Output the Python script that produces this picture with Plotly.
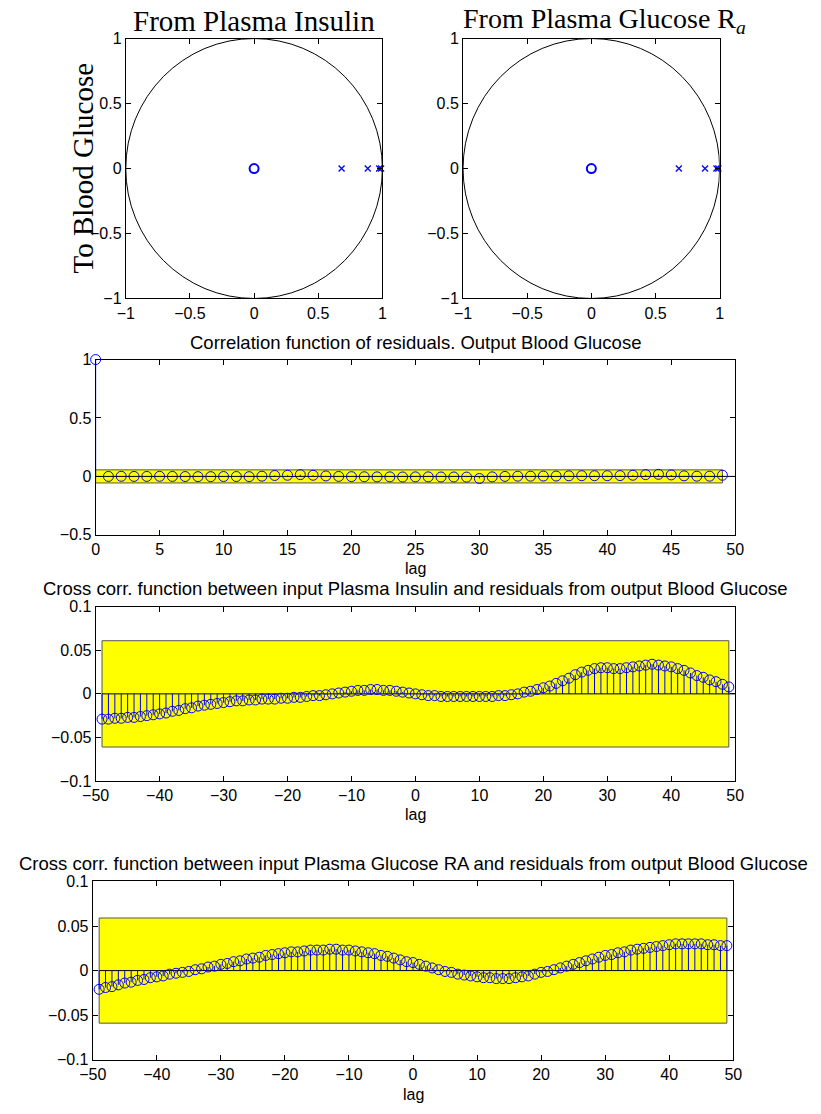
import plotly.graph_objects as go

# ---------------- data ----------------
pz_zeros = [0.0]
pz_poles = [0.682, 0.886, 0.975, 0.99]

corr_lags = list(range(0, 50))
corr_vals = [1.0, 0.000, 0.001, 0.000, 0.000, 0.001, 0.000, -0.001, -0.002, -0.002,
             -0.001, -0.001, -0.002, 0.002, 0.008, 0.010, 0.015, 0.010, 0.004, 0.000,
             -0.002, -0.003, -0.004, -0.004, -0.005, -0.004, -0.004, -0.005, -0.005, -0.006,
             -0.018, -0.004, 0.000, 0.002, 0.002, 0.003, 0.003, 0.005, 0.006, 0.006,
             0.006, 0.007, 0.010, 0.015, 0.018, 0.013, 0.005, 0.002, 0.002, 0.010]
corr_conf = 0.056

xc_lags = list(range(-49, 50))
xc1_vals = [-0.029, -0.029, -0.028, -0.028, -0.027, -0.027, -0.026, -0.025, -0.024, -0.023,
            -0.022, -0.020, -0.019, -0.017, -0.016, -0.014, -0.013, -0.012, -0.011, -0.010,
            -0.009, -0.008, -0.008, -0.007, -0.007, -0.006, -0.006, -0.006, -0.005, -0.005,
            -0.004, -0.004, -0.003, -0.002, -0.002, -0.001, 0.000, 0.001, 0.002, 0.003,
            0.004, 0.004, 0.005, 0.005, 0.004, 0.004, 0.003, 0.002, 0.001, 0.000,
            -0.001, -0.002, -0.002, -0.003, -0.003, -0.003, -0.003, -0.003, -0.003, -0.003,
            -0.003, -0.003, -0.002, -0.002, -0.001, 0.000, 0.002, 0.003, 0.005, 0.007,
            0.009, 0.012, 0.015, 0.018, 0.022, 0.025, 0.027, 0.029, 0.030, 0.030,
            0.029, 0.029, 0.030, 0.031, 0.032, 0.033, 0.034, 0.033, 0.032, 0.031,
            0.029, 0.027, 0.024, 0.021, 0.019, 0.016, 0.014, 0.011, 0.008]
xc1_conf = 0.061

xc2_vals = [-0.021, -0.019, -0.018, -0.016, -0.014, -0.013, -0.011, -0.010, -0.008, -0.007,
            -0.006, -0.004, -0.003, -0.002, -0.001, 0.001, 0.002, 0.004, 0.005, 0.007,
            0.008, 0.010, 0.011, 0.013, 0.014, 0.015, 0.017, 0.018, 0.019, 0.020,
            0.021, 0.021, 0.022, 0.023, 0.023, 0.023, 0.024, 0.024, 0.023, 0.023,
            0.022, 0.021, 0.020, 0.019, 0.017, 0.016, 0.014, 0.012, 0.010, 0.009,
            0.007, 0.005, 0.003, 0.001, -0.001, -0.002, -0.004, -0.005, -0.006, -0.007,
            -0.008, -0.008, -0.009, -0.009, -0.009, -0.008, -0.007, -0.006, -0.004, -0.002,
            -0.001, 0.001, 0.003, 0.005, 0.007, 0.009, 0.011, 0.013, 0.015, 0.017,
            0.018, 0.020, 0.021, 0.023, 0.024, 0.025, 0.026, 0.027, 0.028, 0.029,
            0.030, 0.030, 0.030, 0.030, 0.030, 0.029, 0.029, 0.028, 0.028]
xc2_conf = 0.059

pz_ticks = [-1, -0.5, 0, 0.5, 1]
corr_xticks = list(range(0, 51, 5))
corr_yticks = [-0.5, 0, 0.5, 1]
xc_xticks = list(range(-50, 51, 10))
xc_yticks = [-0.1, -0.05, 0, 0.05, 0.1]

titles = ["From Plasma Insulin", "From Plasma Glucose R<sub><i>a</i></sub>",
          "Correlation function of residuals. Output Blood Glucose",
          "Cross corr. function between input Plasma Insulin and residuals from output Blood Glucose",
          "Cross corr. function between input Plasma Glucose RA and residuals from output Blood Glucose"]
ylabel_pz = "To Blood Glucose"
xlabel = "lag"

# ---------------- layout geometry ----------------
W, H = 821, 1114
BLUE = "#0000ff"
SANS = "Liberation Sans, Arial, sans-serif"
SERIF = "Liberation Serif, Times New Roman, serif"
TICK_SIZE = 16
TITLE_SIZE = 18.5
LAG_SIZE = 16
SERIF_SIZE = 29


def px_x(a, b):
    return [a / W, b / W]


def px_y(top, bottom):
    return [1 - bottom / H, 1 - top / H]


boxes = {
    1: (115, 379, 31, 295),
    2: (462, 726, 31, 295),
    3: (84, 742, 357, 535),
    4: (84, 742, 608, 785),
    5: (81, 740, 887, 1068),
}

fig = go.Figure()


def stem(lags, vals, axn):
    xs, ys = [], []
    for l, v in zip(lags, vals):
        xs += [l, l, None]
        ys += [0, v, None]
    sfx = "" if axn == 1 else str(axn)
    fig.add_trace(go.Scatter(x=xs, y=ys, mode="lines", line=dict(color=BLUE, width=1),
                             xaxis="x" + sfx, yaxis="y" + sfx, hoverinfo="skip", showlegend=False))
    fig.add_trace(go.Scatter(x=lags, y=vals, mode="markers", cliponaxis=False,
                             marker=dict(symbol="circle-open", size=10, color=BLUE,
                                         line=dict(width=1, color=BLUE)),
                             xaxis="x" + sfx, yaxis="y" + sfx, showlegend=False))


shapes = []
# pole-zero plots
for axn in (1, 2):
    sfx = "" if axn == 1 else str(axn)
    shapes.append(dict(type="circle", xref="x" + sfx, yref="y" + sfx, x0=-1, y0=-1, x1=1, y1=1,
                       line=dict(color="black", width=1), layer="below"))
    fig.add_trace(go.Scatter(x=pz_poles, y=[0] * len(pz_poles), mode="markers", cliponaxis=False,
                             marker=dict(symbol="x-thin-open", size=6, color=BLUE,
                                         line=dict(width=1.3, color=BLUE)),
                             xaxis="x" + sfx, yaxis="y" + sfx, showlegend=False))
    fig.add_trace(go.Scatter(x=pz_zeros, y=[0] * len(pz_zeros), mode="markers",
                             marker=dict(symbol="circle-open", size=9, color=BLUE,
                                         line=dict(width=2, color=BLUE)),
                             xaxis="x" + sfx, yaxis="y" + sfx, showlegend=False))


def band(axn, lags, conf, xmax):
    sfx = str(axn)
    shapes.append(dict(type="rect", xref="x" + sfx, yref="y" + sfx, x0=lags[0], x1=lags[-1],
                       y0=-conf, y1=conf, fillcolor="#ffff00",
                       line=dict(color="#555555", width=1), layer="below"))
    fig.add_trace(go.Scatter(x=[lags[0], xmax], y=[0, 0], mode="lines",
                             line=dict(color="black", width=1),
                             xaxis="x" + sfx, yaxis="y" + sfx, hoverinfo="skip", showlegend=False))


band(3, corr_lags, corr_conf, 50)
stem(corr_lags, corr_vals, 3)
band(4, xc_lags, xc1_conf, 50)
stem(xc_lags, xc1_vals, 4)
band(5, xc_lags, xc2_conf, 50)
stem(xc_lags, xc2_vals, 5)

axis_common = dict(showgrid=False, zeroline=False, showline=True, linecolor="black", linewidth=1,
                   mirror="allticks", ticks="inside", ticklen=5, tickcolor="black",
                   tickfont=dict(family=SANS, size=TICK_SIZE, color="black"))

layout = dict(width=W, height=H, margin=dict(l=0, r=0, t=0, b=0),
              paper_bgcolor="white", plot_bgcolor="white", showlegend=False, shapes=shapes)

ranges = {
    1: ([-1, 1], [-1, 1], pz_ticks, pz_ticks),
    2: ([-1, 1], [-1, 1], pz_ticks, pz_ticks),
    3: ([0, 50], [-0.5, 1], corr_xticks, corr_yticks),
    4: ([-50, 50], [-0.1, 0.1], xc_xticks, xc_yticks),
    5: ([-50, 50], [-0.1, 0.1], xc_xticks, xc_yticks),
}
for axn, (x0, x1, y0, y1) in boxes.items():
    sfx = "" if axn == 1 else str(axn)
    xr, yr, xt, yt = ranges[axn]
    layout["xaxis" + sfx] = dict(axis_common, domain=px_x(x0, x1), range=xr, tickvals=xt,
                                 anchor="y" + sfx)
    layout["yaxis" + sfx] = dict(axis_common, domain=px_y(y0, y1), range=yr, tickvals=yt,
                                 anchor="x" + sfx)

ann = []


def text(t, x, y, size, family, angle=0, yanchor="middle"):
    ann.append(dict(text=t, x=x / W, y=1 - y / H, xref="paper", yref="paper", showarrow=False,
                    xanchor="center", yanchor=yanchor, textangle=angle,
                    font=dict(family=family, size=size, color="black")))


text(titles[0], 247, 13, SERIF_SIZE, SERIF)
text(titles[1], 608, 13, 28, SERIF)
text(ylabel_pz, 70, 163, SERIF_SIZE, SERIF, -90)
text(titles[2], 413, 340, TITLE_SIZE, SANS)
text(titles[3], 413, 589, TITLE_SIZE, SANS)
text(titles[4], 411, 869, TITLE_SIZE, SANS)
text(xlabel, 413, 569, LAG_SIZE, SANS)
text(xlabel, 413, 819, LAG_SIZE, SANS)
text(xlabel, 411, 1103, LAG_SIZE, SANS)
layout["annotations"] = ann

fig.update_layout(**layout)
fig.write_html("out.html", config={"displayModeBar": False},
               post_script="document.body.style.margin='0';document.body.style.overflow='hidden';")
